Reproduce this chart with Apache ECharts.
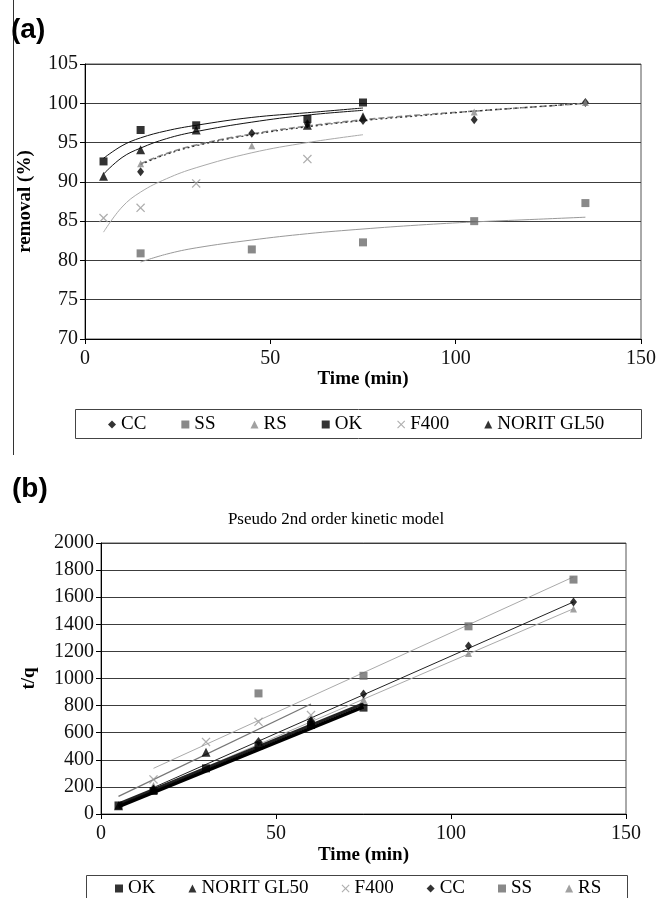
<!DOCTYPE html>
<html><head><meta charset="utf-8">
<script src="https://cdn.jsdelivr.net/npm/echarts@6/dist/echarts.min.js"></script>
<style>html,body{margin:0;padding:0;background:#fff}#c{width:659px;height:898px}</style>
</head><body><div id="c"></div>
<script>
// ---- shared ----
const times = [5, 15, 30, 45, 60, 75, 105, 135];
const xTicks = [0, 50, 100, 150];

// ---- panel (a): removal (%) ----
const removalCC    = [null, 91.3, null, 96.2, 97.4, 97.8, 97.9, 100.1];
const removalSS    = [null, 80.9, null, 81.4, null, 82.3, 85.0, 87.3];
const removalRS    = [null, 92.3, null, 94.6, null, 98.2, 98.9, 100.1];
const removalOK    = [92.6, 96.6, 97.2, null, 98.0, 100.1, null, null];
const removalF400  = [85.4, 86.7, 89.8, null, 92.9, null, null, null];
const removalNORIT = [90.7, 94.1, 96.6, null, 97.2, 98.3, null, null];

// trend curves (panel a)
const trendTimesShort = [5, 10, 15, 22, 30, 45, 60, 75];
const trendOK    = [93.0, 94.6, 95.6, 96.5, 97.2, 98.2, 98.8, 99.4];
const trendNORIT = [91.0, 93.1, 94.3, 95.5, 96.4, 97.6, 98.5, 99.1];
const trendF400  = [83.6, 86.8, 88.7, 90.4, 91.8, 93.7, 95.0, 96.0];
const trendTimesLong = [15, 22, 30, 45, 60, 75, 90, 105, 120, 135];
const trendCC = [92.2, 93.5, 94.6, 96.0, 97.0, 97.8, 98.4, 99.0, 99.5, 100.0];
const trendRS = [92.3, 93.6, 94.7, 96.1, 97.1, 97.9, 98.5, 99.0, 99.5, 100.0];
const trendSS = [79.8, 80.8, 81.6, 82.6, 83.4, 84.0, 84.5, 84.9, 85.2, 85.5];

// ---- panel (b): t/q ----
const tqOK    = [63, 170, 337, 505, 657, 785, null, null];
const tqNORIT = [60, 180, 455, null, 680, null, null, null];
const tqF400  = [null, 255, 532, 680, 730, null, null, null];
const tqCC    = [null, 185, null, 535, 690, 885, 1240, 1565];
const tqSS    = [null, null, null, 890, null, 1020, 1385, 1730];
const tqRS    = [null, 210, null, 520, 700, 845, 1185, 1512];

// linear trend endpoints (panel b)
const lineOKb    = [[5, 55], [75, 790]];
const lineNORITb = [[5, 75], [75, 815]];
const lineF400b  = [[5, 130], [60, 812]];
const lineCCb    = [[15, 195], [135, 1565]];
const lineSSb    = [[15, 337], [135, 1750]];
const lineRSb    = [[15, 180], [135, 1515]];

const legendA = ['CC', 'SS', 'RS', 'OK', 'F400', 'NORIT GL50'];
const legendB = ['OK', 'NORIT GL50', 'F400', 'CC', 'SS', 'RS'];

const SERIF = 'Liberation Serif';
const crossPath = 'path://M0,1 L1,0 L5,4 L9,0 L10,1 L6,5 L10,9 L9,10 L5,6 L1,10 L0,9 L4,5 Z';
const sym = {
  'CC': {symbol: 'diamond', size: [7, 9], color: '#000'},
  'SS': {symbol: 'rect', size: 8, color: '#6c6c6c'},
  'RS': {symbol: 'triangle', size: 7, color: '#8a8a8a'},
  'OK': {symbol: 'rect', size: 8, color: '#000'},
  'F400': {symbol: crossPath, size: 9, color: '#9a9a9a'},
  'NORIT GL50': {symbol: 'triangle', size: 9, color: '#000'}
};

function pairs(xs, ys) {
  const out = [];
  xs.forEach((t, i) => { if (ys[i] !== null && ys[i] !== undefined) out.push([t, ys[i]]); });
  return out;
}
function pts(name, arr, gi) {
  const s = sym[name];
  return {type: 'scatter', name: name, xAxisIndex: gi, yAxisIndex: gi,
    symbol: s.symbol, symbolSize: s.size, itemStyle: {color: s.color},
    data: pairs(times, arr), z: 5, silent: true};
}
function trend(name, data, gi, style, smooth) {
  return {type: 'line', name: name, xAxisIndex: gi, yAxisIndex: gi, data: data,
    showSymbol: false, smooth: smooth ? 0.4 : false, lineStyle: style, z: 3, silent: true};
}

const axisLabel = {fontFamily: SERIF, fontSize: 20, color: '#111', formatter: v => String(v)};
const nameStyle = {fontFamily: SERIF, fontSize: 19, fontWeight: 'bold', color: '#000'};

function xAx(gi, gap) {
  return {type: 'value', gridIndex: gi, min: 0, max: 150, interval: 50,
    name: 'Time (min)', nameLocation: 'middle', nameGap: gap, nameTextStyle: nameStyle,
    axisLine: {lineStyle: {color: '#000', width: 1}},
    axisTick: {show: true, length: 5, lineStyle: {color: '#000'}},
    axisLabel: Object.assign({margin: 10}, axisLabel), splitLine: {show: false}};
}
function yAx(gi, min, max, interval, name, gap) {
  return {type: 'value', gridIndex: gi, min: min, max: max, interval: interval,
    name: name, nameLocation: 'middle', nameGap: gap, nameRotate: 90, nameTextStyle: nameStyle,
    axisLine: {show: true, lineStyle: {color: '#000', width: 1}},
    axisTick: {show: true, length: 5, lineStyle: {color: '#000'}},
    axisLabel: Object.assign({margin: 7}, axisLabel),
    splitLine: {show: true, lineStyle: {color: '#3c3c3c', width: 1.1}}};
}

const legendText = {fontFamily: SERIF, fontSize: 19, color: '#000'};
function legendData(names) { return names.map(n => ({name: n, icon: sym[n].symbol, itemStyle: {color: sym[n].color}})); }

const option = {
  backgroundColor: '#fff',
  animation: false,
  grid: [
    {left: 85, top: 64, width: 559, height: 275, show: true, borderColor: '#555', borderWidth: 1, backgroundColor: 'transparent'},
    {left: 101, top: 543, width: 525, height: 271, show: true, borderColor: '#555', borderWidth: 1, backgroundColor: 'transparent'}
  ],
  xAxis: [xAx(0, 31), xAx(1, 32)],
  yAxis: [yAx(0, 70, 105, 5, 'removal (%)', 50), yAx(1, 0, 2000, 200, 't/q', 62)],
  legend: [
    {data: legendData(legendA), left: 108, top: 415, itemWidth: 8, itemHeight: 8, itemGap: 35, padding: 0, textStyle: legendText, selectedMode: false},
    {data: legendData(legendB), left: 115, top: 879, itemWidth: 8, itemHeight: 8, itemGap: 33, padding: 0, textStyle: legendText, selectedMode: false}
  ],
  graphic: [
    {type: 'line', shape: {x1: 13.5, y1: 0, x2: 13.5, y2: 455}, style: {stroke: '#333', lineWidth: 1}},
    {type: 'text', left: 11, top: 16, style: {text: '(a)', font: 'bold 28px "Liberation Sans"', fill: '#000'}},
    {type: 'text', left: 12, top: 475, style: {text: '(b)', font: 'bold 28px "Liberation Sans"', fill: '#000'}},
    {type: 'text', x: 336, y: 520, style: {text: 'Pseudo 2nd order kinetic model', font: '17px "Liberation Serif"', fill: '#000', align: 'center', verticalAlign: 'middle'}},
    {type: 'rect', shape: {x: 75.5, y: 409.5, width: 566, height: 29}, style: {fill: 'none', stroke: '#444', lineWidth: 1}, z: -1},
    {type: 'rect', shape: {x: 86.5, y: 875.5, width: 541, height: 40}, style: {fill: 'none', stroke: '#444', lineWidth: 1}, z: -1}
  ],
  series: [
    // panel a trends
    trend('tOK', pairs(trendTimesShort, trendOK), 0, {color: '#111', width: 1}, true),
    trend('tNORIT', pairs(trendTimesShort, trendNORIT), 0, {color: '#111', width: 1}, true),
    trend('tF400', pairs(trendTimesShort, trendF400), 0, {color: '#aaa', width: 1}, true),
    trend('tSS', pairs(trendTimesLong, trendSS), 0, {color: '#999', width: 1}, true),
    trend('tRS', pairs(trendTimesLong, trendRS), 0, {color: '#888', width: 1.6, type: [6, 3]}, true),
    trend('tCC', pairs(trendTimesLong, trendCC), 0, {color: '#333', width: 1.2, type: [2, 3]}, true),
    // panel a points
    pts('CC', removalCC, 0), pts('SS', removalSS, 0), pts('RS', removalRS, 0),
    pts('OK', removalOK, 0), pts('F400', removalF400, 0), pts('NORIT GL50', removalNORIT, 0),
    // panel b trends
    trend('bSS', lineSSb, 1, {color: '#aaa', width: 1}),
    trend('bRS', lineRSb, 1, {color: '#aaa', width: 1}),
    trend('bF400', lineF400b, 1, {color: '#777', width: 1.3}),
    trend('bCC', lineCCb, 1, {color: '#222', width: 1}),
    trend('bNORIT', lineNORITb, 1, {color: '#222', width: 3}),
    trend('bOK', lineOKb, 1, {color: '#000', width: 3.5}),
    // panel b points
    pts('SS', tqSS, 1), pts('RS', tqRS, 1), pts('F400', tqF400, 1),
    pts('CC', tqCC, 1), pts('NORIT GL50', tqNORIT, 1), pts('OK', tqOK, 1)
  ]
};

const chart = echarts.init(document.getElementById('c'));
chart.setOption(option);
</script>
</body></html>
